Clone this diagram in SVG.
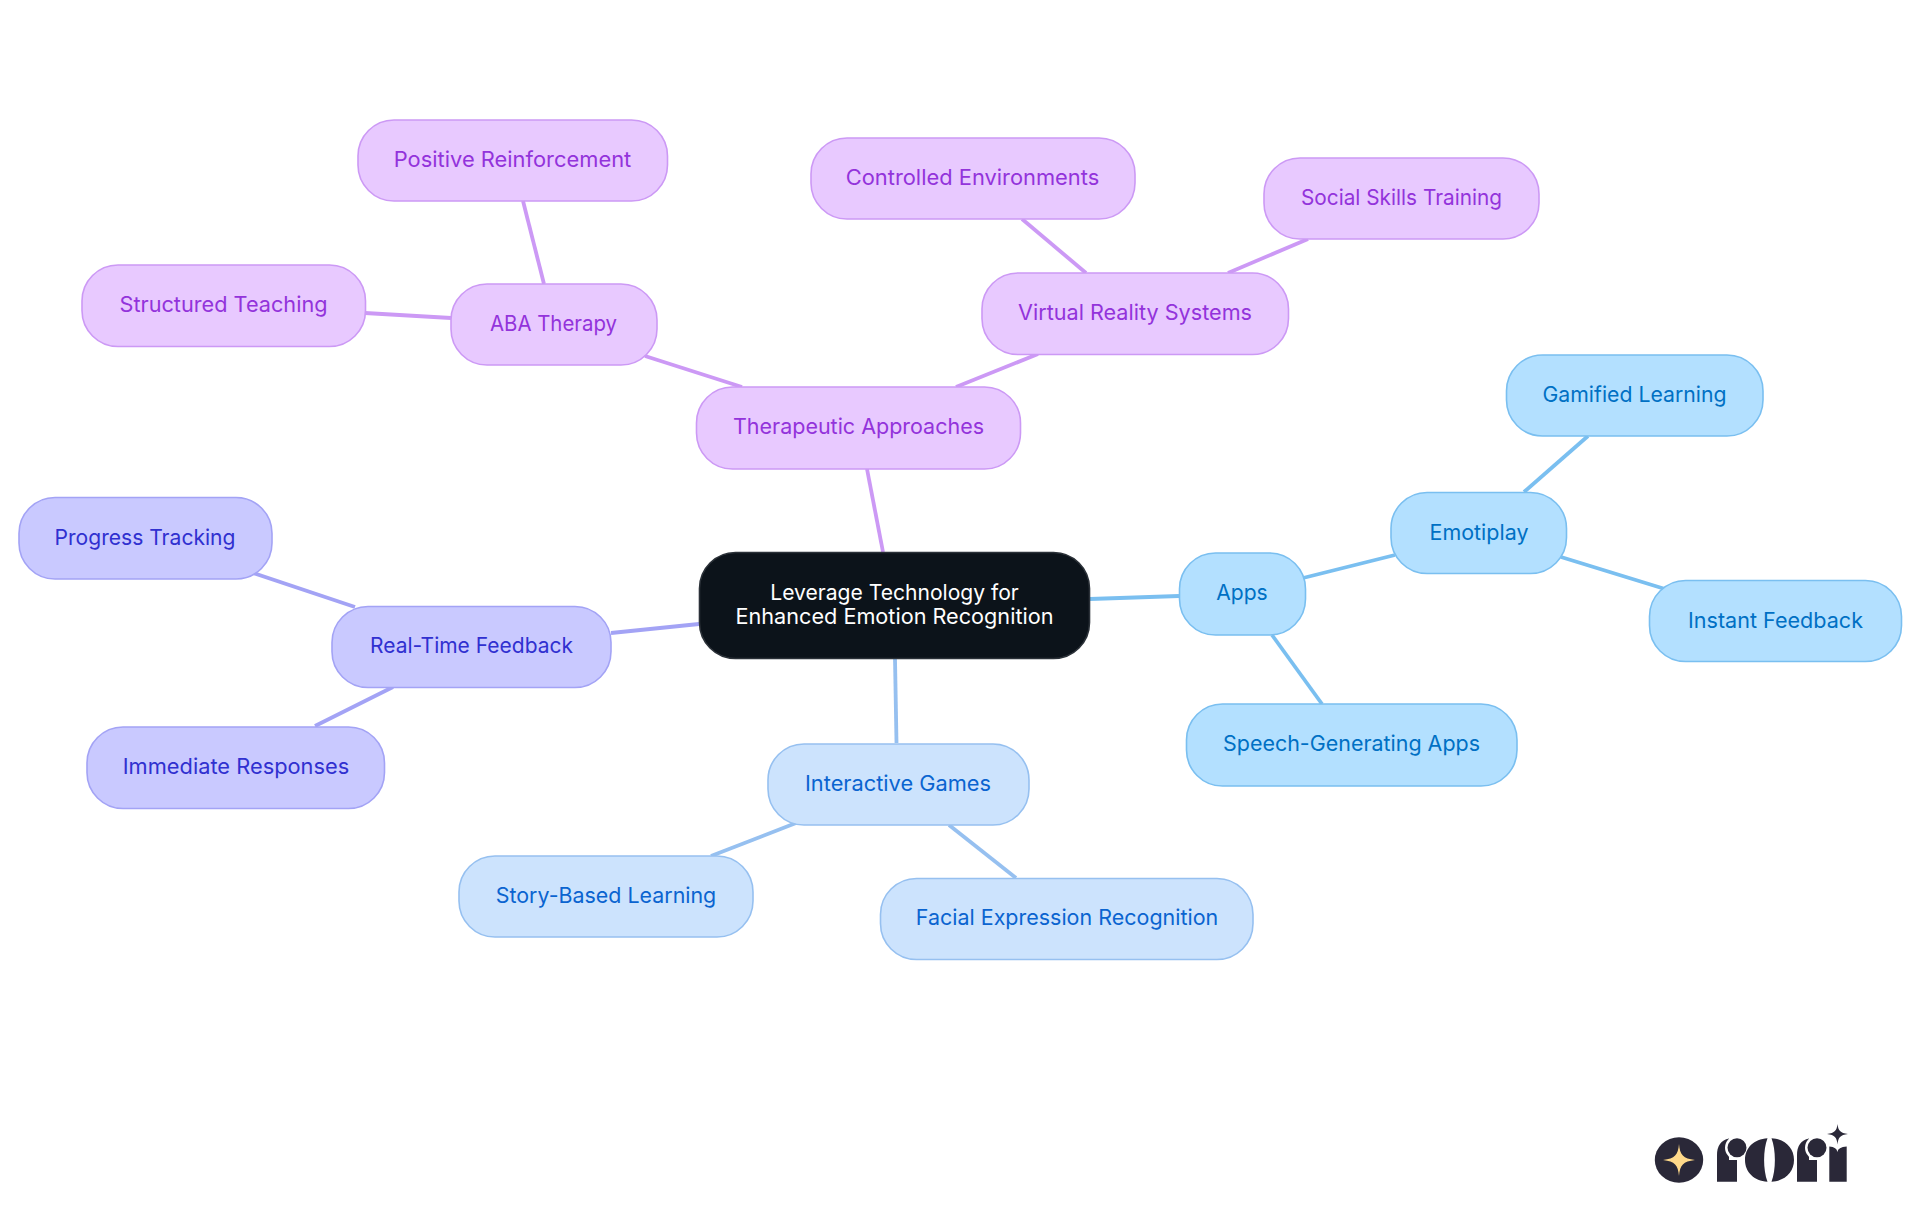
<svg xmlns="http://www.w3.org/2000/svg" width="1920" height="1215" viewBox="0 0 1920 1215">
<style>
text{font-family:"Inter","Noto Sans","Liberation Sans",sans-serif;font-size:21.600px;font-weight:400;text-anchor:middle}
rect{stroke-width:1.6}
.c line{stroke-width:3.8;stroke-linecap:butt}
.p rect{fill:#E8C9FF;stroke:#CC99F5}.p text{fill:#9333DB}
.b rect{fill:#B3E0FF;stroke:#7ABFF0}.b text{fill:#0070C4}
.l rect{fill:#CCE3FD;stroke:#96C0F0}.l text{fill:#0A64D0}
.i rect{fill:#C9C9FF;stroke:#A3A3F5}.i text{fill:#3030D0}
.cp{stroke:#CC99F5}.cb{stroke:#7ABFF0}.cl{stroke:#96C0F0}.ci{stroke:#A3A3F5}
.lg{fill:#2A2838}
</style>
<rect width="1920" height="1215" fill="#fff" stroke="none"/>
<g id="connectors" class="c">
<line class="cp" x1="867" y1="469" x2="883" y2="552"/>
<line class="cb" x1="1090" y1="599" x2="1179" y2="596"/>
<line class="cb" x1="1303" y1="578" x2="1395" y2="555"/>
<line class="cb" x1="1272" y1="635" x2="1322" y2="704"/>
<line class="cb" x1="1561" y1="557" x2="1665" y2="589"/>
<line class="cb" x1="1524" y1="492" x2="1588" y2="436"/>
<line class="cl" x1="895" y1="659" x2="896.500" y2="743"/>
<line class="cl" x1="796" y1="823" x2="711" y2="856"/>
<line class="cl" x1="949" y1="825" x2="1016" y2="878"/>
<line class="ci" x1="699" y1="624" x2="611" y2="633"/>
<line class="ci" x1="355" y1="607" x2="250" y2="572"/>
<line class="ci" x1="393" y1="687" x2="315" y2="726"/>
<line class="cp" x1="742" y1="387" x2="645" y2="356"/>
<line class="cp" x1="956" y1="387" x2="1038" y2="354"/>
<line class="cp" x1="544" y1="284" x2="523" y2="201"/>
<line class="cp" x1="451" y1="318" x2="365" y2="313"/>
<line class="cp" x1="1086" y1="273" x2="1022" y2="219"/>
<line class="cp" x1="1228" y1="273" x2="1308" y2="239"/>
</g>
<g id="root"><rect x="699.500" y="552.500" width="390" height="106" rx="36" fill="#0C131A" stroke="#2B3138"/><text x="894.500" y="600" fill="#fff" textLength="248.500" lengthAdjust="spacingAndGlyphs">Leverage Technology for</text><text x="894.500" y="624" fill="#fff" textLength="318" lengthAdjust="spacingAndGlyphs">Enhanced Emotion Recognition</text></g>
<g id="therapeutic" class="p"><rect x="696.500" y="387" width="324" height="82" rx="36"/><text x="858.500" y="434" textLength="251" lengthAdjust="spacingAndGlyphs">Therapeutic Approaches</text></g>
<g id="aba" class="p"><rect x="451" y="284" width="206" height="81" rx="36"/><text x="553.500" y="331" textLength="127" lengthAdjust="spacingAndGlyphs">ABA Therapy</text></g>
<g id="positive" class="p"><rect x="358" y="120" width="309.500" height="81" rx="36"/><text x="512.500" y="167" textLength="237.500" lengthAdjust="spacingAndGlyphs">Positive Reinforcement</text></g>
<g id="structured" class="p"><rect x="82" y="265" width="283.500" height="81.500" rx="36"/><text x="223.500" y="312" textLength="208" lengthAdjust="spacingAndGlyphs">Structured Teaching</text></g>
<g id="virtual" class="p"><rect x="982" y="273" width="306.500" height="81.500" rx="36"/><text x="1135" y="320" textLength="234" lengthAdjust="spacingAndGlyphs">Virtual Reality Systems</text></g>
<g id="controlled" class="p"><rect x="811" y="138" width="324" height="81" rx="36"/><text x="972.500" y="185" textLength="253.500" lengthAdjust="spacingAndGlyphs">Controlled Environments</text></g>
<g id="social" class="p"><rect x="1264" y="158" width="275" height="81" rx="36"/><text x="1401.500" y="205" textLength="201" lengthAdjust="spacingAndGlyphs">Social Skills Training</text></g>
<g id="apps" class="b"><rect x="1179.500" y="553" width="126" height="82" rx="36"/><text x="1242" y="600" textLength="51.500" lengthAdjust="spacingAndGlyphs">Apps</text></g>
<g id="emotiplay" class="b"><rect x="1391" y="492.500" width="175.500" height="81" rx="36"/><text x="1479" y="540" textLength="99" lengthAdjust="spacingAndGlyphs">Emotiplay</text></g>
<g id="gamified" class="b"><rect x="1506.500" y="355" width="256.500" height="81" rx="36"/><text x="1634.500" y="402" textLength="184" lengthAdjust="spacingAndGlyphs">Gamified Learning</text></g>
<g id="instant" class="b"><rect x="1649.500" y="580.500" width="252" height="81" rx="36"/><text x="1775.500" y="628" textLength="175" lengthAdjust="spacingAndGlyphs">Instant Feedback</text></g>
<g id="speech" class="b"><rect x="1186.500" y="704" width="330.500" height="82" rx="36"/><text x="1351.500" y="751" textLength="257" lengthAdjust="spacingAndGlyphs">Speech-Generating Apps</text></g>
<g id="interactive" class="l"><rect x="768" y="744" width="261" height="81" rx="36"/><text x="898" y="791" textLength="186" lengthAdjust="spacingAndGlyphs">Interactive Games</text></g>
<g id="story" class="l"><rect x="459" y="856" width="294" height="81" rx="36"/><text x="606" y="903" textLength="220.500" lengthAdjust="spacingAndGlyphs">Story-Based Learning</text></g>
<g id="facial" class="l"><rect x="880.500" y="878.500" width="372.500" height="81" rx="36"/><text x="1067" y="925" textLength="302.500" lengthAdjust="spacingAndGlyphs">Facial Expression Recognition</text></g>
<g id="realtime" class="i"><rect x="332" y="606.500" width="279" height="81" rx="36"/><text x="471.500" y="653" textLength="203" lengthAdjust="spacingAndGlyphs">Real-Time Feedback</text></g>
<g id="progress" class="i"><rect x="19" y="497.500" width="253" height="81.500" rx="36"/><text x="145" y="545" textLength="181" lengthAdjust="spacingAndGlyphs">Progress Tracking</text></g>
<g id="immediate" class="i"><rect x="87" y="727" width="297.500" height="81.500" rx="36"/><text x="236" y="774" textLength="226.500" lengthAdjust="spacingAndGlyphs">Immediate Responses</text></g>
<g id="logo">
<ellipse class="lg" cx="1679" cy="1160" rx="24.200" ry="22.800"/>
<path fill="#FFD98A" d="M1679 1144C1680 1155 1683 1158.500 1695 1160C1683 1161.500 1680 1165 1679 1176C1678 1165 1675 1161.500 1663 1160C1675 1158.500 1678 1155 1679 1144Z"/>
<path class="lg" d="M1717 1181.700V1155Q1717 1141 1729 1138.500V1181.700ZM1729 1160H1737V1181.700H1717Z"/>
<circle cx="1737" cy="1147.700" r="12" fill="#fff"/><circle class="lg" cx="1737" cy="1147.700" r="9.500"/>
<path class="lg" d="M1767.500 1138.300C1763 1150 1763 1170 1767.500 1181.700C1754 1181 1745 1172 1745 1160C1745 1148 1754 1139 1767.500 1138.300Z"/>
<path class="lg" d="M1771.500 1138.300C1776 1150 1776 1170 1771.500 1181.700C1785 1181 1794 1172 1794 1160C1794 1148 1785 1139 1771.500 1138.300Z"/>
<path class="lg" d="M1797 1181.700V1155Q1797 1141 1809 1138.500V1181.700ZM1809 1160H1817V1181.700H1797Z"/>
<circle cx="1817" cy="1147.700" r="12" fill="#fff"/><circle class="lg" cx="1817" cy="1147.700" r="9.500"/>
<path class="lg" d="M1829.300 1181.700V1146.500Q1837 1147 1837.300 1152Q1838 1147 1846.700 1146.500V1181.700Z"/>
<path class="lg" d="M1837.500 1124C1838.300 1130.500 1840 1133 1848 1134C1840 1135 1838.300 1137.500 1837.500 1144.500C1836.700 1137.500 1835 1135 1827 1134C1835 1133 1836.700 1130.500 1837.500 1124Z"/>
</g>
</svg>
